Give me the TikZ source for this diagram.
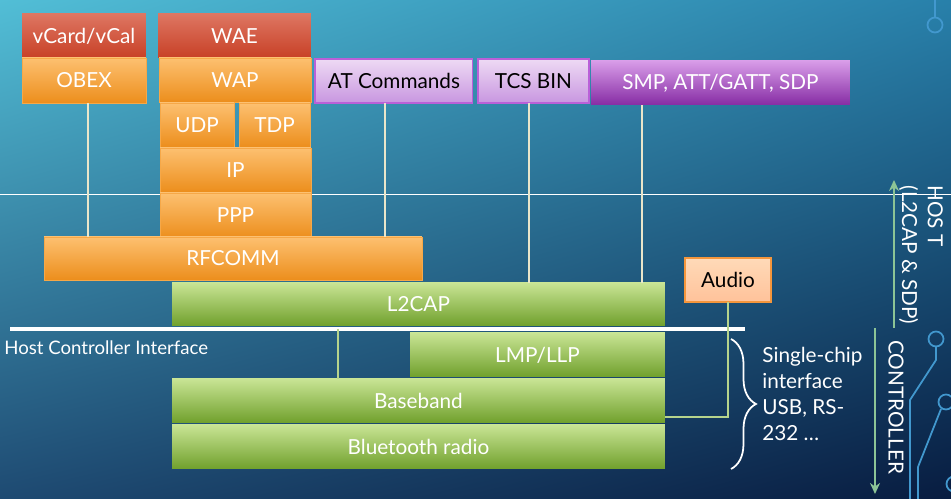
\documentclass[tikz,border=0pt]{standalone}
\usepackage{fontspec}
\setmainfont{Lato}
\usetikzlibrary{arrows.meta, calc, positioning, decorations.pathreplacing, shadings}

\definecolor{bgul}{RGB}{82,190,214}
\definecolor{bgur}{RGB}{40,128,170}
\definecolor{bgll}{RGB}{30,74,114}
\definecolor{bglr}{RGB}{8,28,64}
\definecolor{orT}{RGB}{253,192,112}
\definecolor{orB}{RGB}{236,142,28}
\definecolor{orD}{RGB}{246,168,72}
\definecolor{redT}{RGB}{222,118,98}
\definecolor{redB}{RGB}{200,64,38}
\definecolor{grT}{RGB}{200,228,148}
\definecolor{grM}{RGB}{158,204,78}
\definecolor{grB}{RGB}{112,160,44}
\definecolor{lilT}{RGB}{238,218,244}
\definecolor{lilB}{RGB}{200,150,224}
\definecolor{lilD}{RGB}{186,96,216}
\definecolor{purT}{RGB}{216,156,232}
\definecolor{purB}{RGB}{134,44,164}
\definecolor{audT}{RGB}{255,218,184}
\definecolor{audB}{RGB}{255,194,154}
\definecolor{audD}{RGB}{245,150,60}
\definecolor{cream}{RGB}{234,230,202}
\definecolor{leaf}{RGB}{182,212,140}
\definecolor{mint}{RGB}{140,196,150}
\definecolor{chip}{RGB}{66,152,206}

\begin{document}
\begin{tikzpicture}[x=0.02cm, y=-0.02cm, >={Stealth[length=0.22cm, width=0.2cm]},
  font=\fontsize{11.8}{14.7}\selectfont,
  layer/.style={anchor=north west, inner sep=0pt, outer sep=0pt, minimum height=0.88cm, text=white},
  redbox/.style={layer, top color=redT, bottom color=redB},
  orangebox/.style={layer, top color=orT, bottom color=orB, draw=orD, line width=0.4pt},
  greenbox/.style={layer, top color=grT, middle color=grM, bottom color=grB},
  lilacbox/.style={layer, top color=lilT, bottom color=lilB, draw=lilD, line width=0.6pt, text=black},
  purplebox/.style={layer, top color=purT, bottom color=purB},
  audiobox/.style={layer, top color=audT, bottom color=audB, draw=audD, line width=0.6pt, text=black},
  wire/.style={cream, line width=1.1pt},
  upwire/.style={mint, line width=1.1pt},
  label/.style={text=white, inner sep=0pt}]

  \useasboundingbox (0,0) rectangle (951,499);

  % background
  \shade[upper left=bgul, upper right=bgur, lower left=bgll, lower right=bglr] (0,0) rectangle (951,499);
  \draw[white, line width=0.5pt] (0,194) -- (951,194);

  % circuit marks
  \begin{scope}[chip, line width=1pt]
    \clip (0,0) rectangle (951,499);
    \draw (935,0) -- (935,17);
    \draw (935,25) circle[radius=0.15cm];
    \draw (936,339) circle[radius=0.15cm];
    \draw (936,347) -- (936,360) -- (910,400) -- (910,499);
    \draw (946,402) circle[radius=0.15cm];
    \draw (941,409) -- (918,467) -- (918,499);
    \draw (954,484) circle[radius=0.15cm];
  \end{scope}

  % stack
  \node[redbox, minimum width=2.48cm] (vcard) at (22,14) {vCard/vCal};
  \node[orangebox, minimum width=2.48cm, minimum height=0.90cm] (obex) at (22,58) {OBEX};
  \node[redbox, minimum width=3.06cm] (wae) at (158,14) {WAE};
  \node[orangebox, minimum width=3.04cm] (wap) at (159,58) {WAP};
  \node[orangebox, minimum width=1.48cm] (udp) at (160,103) {UDP};
  \node[orangebox, minimum width=1.42cm] (tdp) at (239,103) {TDP};
  \node[orangebox, minimum width=3.02cm] (ip) at (160,148) {IP};
  \node[orangebox, minimum width=3.02cm, minimum height=0.90cm] (ppp) at (160,193) {PPP};
  \node[lilacbox, minimum width=3.16cm] (atcmd) at (315,59) {AT Commands};
  \node[lilacbox, minimum width=2.22cm] (tcsbin) at (478,59) {TCS BIN};
  \node[purplebox, minimum width=5.18cm] (smp) at (591,61) {SMP, ATT/GATT, SDP};
  \node[orangebox, minimum width=7.56cm, minimum height=0.86cm] (rfcomm) at (44,237) {RFCOMM};
  \node[greenbox, minimum width=9.86cm, minimum height=0.86cm] (l2cap) at (172,283) {L2CAP};
  \node[greenbox, minimum width=5.10cm] (lmp) at (410,333) {LMP/LLP};
  \node[greenbox, minimum width=9.86cm] (baseband) at (172,379) {Baseband};
  \node[greenbox, minimum width=9.86cm] (radio) at (172,425) {Bluetooth radio};
  \node[audiobox, minimum width=1.72cm] (audio) at (685,258) {Audio};

  \foreach \n/\x/\t in {obex/88/rfcomm, atcmd/385/rfcomm, tcsbin/529/l2cap, smp/642/l2cap} {
    \draw[wire] (\n.south -| \x,0) -- (\t.north -| \x,0);
  }

  % host controller interface
  \coordinate (hcil) at (10,329);
  \coordinate (hcir) at (745,329);
  \draw[white, line width=2.3pt] (hcil) -- (hcir);
  \draw[leaf, line width=1.1pt] (hcil -| 338,0) -- (baseband.north -| 338,0);
  \node[label, anchor=west, font=\fontsize{10.6}{12}\selectfont] (hcilbl) at (4,348) {Host Controller Interface};
  \draw[leaf, line width=1.1pt] (audio.south) |- ([yshift=-0.32cm]baseband.east);

  \draw[white, line width=1pt, decorate, decoration={brace, amplitude=0.5cm, aspect=0.5}] (731,339) -- (731,469);
  \node[label, anchor=west, align=left] (chipif) at (762,394) {Single-chip\\interface\\USB, RS-\\232 …};

  % host / controller
  \coordinate (hostlo) at (894,328);
  \coordinate (hosthi) at (894,180);
  \draw[upwire, ->] (hostlo) -- (hosthi);
  \coordinate (ctrlhi) at (875,328);
  \coordinate (ctrllo) at (875,494);
  \draw[upwire, ->] (ctrlhi) -- (ctrllo);
  \node[label, rotate=-90, align=left] (hostlbl) at (921,255) {HOS T\\(L2CAP \& SDP)};
  \node[label, rotate=-90] (ctrllbl) at (896,407) {CONTROLLER};

\end{tikzpicture}
\end{document}
